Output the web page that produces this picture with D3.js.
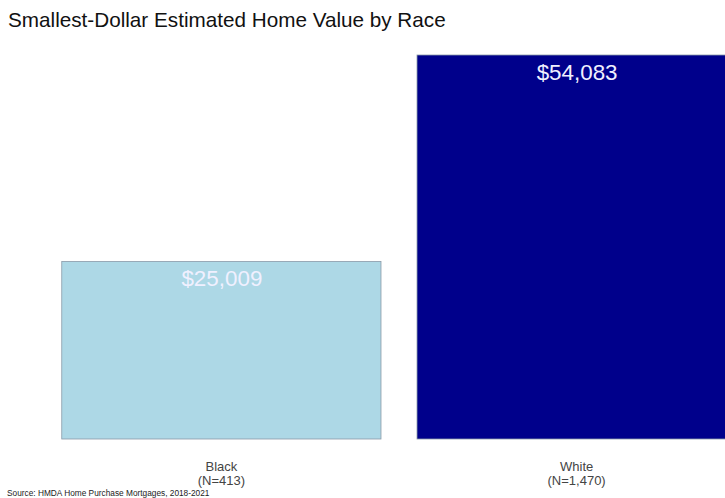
<!DOCTYPE html>
<html><head><meta charset="utf-8">
<script src="https://cdn.jsdelivr.net/npm/d3@7"></script>
<style>body{margin:0;background:#fff}svg{display:block;font-family:"Liberation Sans",Arial,sans-serif}</style>
</head><body><div id="chart"></div>
<script>
const categories = ["Black", "White"];
const counts = ["N=413", "N=1,470"];
const values = [25009, 54083];
const colors = ["#add8e6", "#00008b"];
const title = "Smallest-Dollar Estimated Home Value by Race";
const source = "Source: HMDA Home Purchase Mortgages, 2018-2021";

const W = 725, H = 498;
const svg = d3.select("#chart").append("svg").attr("width", W).attr("height", H);

const x = d3.scaleBand().domain(categories).range([44, 754]).paddingInner(0.1014).paddingOuter(0.05);
const y = d3.scaleLinear().domain([0, 54083]).range([439, 55]);

svg.append("text").attr("x", 8).attr("y", 27).attr("font-size", 20.7).attr("fill", "#111").text(title);

const g = svg.selectAll("g.bar").data(categories).enter().append("g");
g.append("rect")
  .attr("x", d => x(d)).attr("y", (d, i) => y(values[i]))
  .attr("width", x.bandwidth()).attr("height", (d, i) => y(0) - y(values[i]))
  .attr("fill", (d, i) => colors[i]).attr("stroke", "#8a9aa8").attr("stroke-width", 0.8);
g.append("text")
  .attr("x", d => x(d) + x.bandwidth() / 2 + 0.5).attr("y", (d, i) => y(values[i]) + 25)
  .attr("text-anchor", "middle").attr("font-size", 22.4).attr("fill", "#f0f0ff")
  .text((d, i) => "$" + d3.format(",")(values[i]));
g.append("text")
  .attr("x", d => x(d) + x.bandwidth() / 2).attr("y", 471)
  .attr("text-anchor", "middle").attr("font-size", 13).attr("fill", "#444")
  .text(d => d);
g.append("text")
  .attr("x", d => x(d) + x.bandwidth() / 2).attr("y", 485)
  .attr("text-anchor", "middle").attr("font-size", 13).attr("fill", "#444")
  .text((d, i) => "(" + counts[i] + ")");

svg.append("text").attr("x", 7).attr("y", 495.5).attr("font-size", 8.3).attr("fill", "#222").text(source);
</script></body></html>
